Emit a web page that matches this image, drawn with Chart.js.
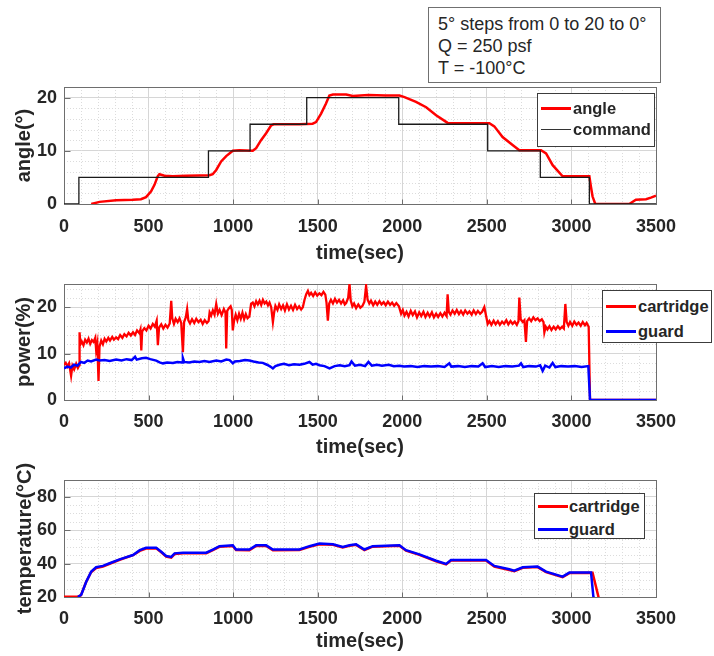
<!DOCTYPE html>
<html>
<head>
<meta charset="utf-8">
<script src="https://cdn.jsdelivr.net/npm/chart.js@4/dist/chart.umd.min.js"></script>
<style>
  body { margin: 0; background: #fff; }
  #page { position: relative; width: 714px; height: 656px; overflow: hidden; font-family: "Liberation Sans", Arial, sans-serif; }
  canvas { position: absolute; left: 0; }
  .note { position: absolute; left: 428px; top: 7px; width: 233px; height: 76px; box-sizing: border-box;
          border: 1px solid #707070; background: #fff; padding: 5px 0 0 9px; font-size: 18px; line-height: 22px; color: #262626; }
  .legend { position: absolute; box-sizing: border-box; border: 1px solid #3c3c3c; background: #fff;
            font-weight: bold; font-size: 16.5px; color: #262626; }
  .legend .swatch { position: absolute; height: 0; }
  .legend .label { position: absolute; line-height: 20px; margin-top: -10px; white-space: nowrap; }
</style>
</head>
<body>
<div id="page">
  <canvas id="angleChart" width="714" height="186" style="top:80px"></canvas>
  <canvas id="powerChart" width="714" height="192" style="top:270px"></canvas>
  <canvas id="tempChart" width="714" height="198" style="top:458px"></canvas>
  <div class="note">5° steps from 0 to 20 to 0°<br>Q = 250 psf<br>T = -100°C</div>
</div>
<script>
// measured angle vs. commanded angle
const angleTime = [161, 210, 308, 407, 455, 485, 515, 535, 554, 564, 594, 643, 722, 801, 860, 879, 900, 929, 959, 998,
  1037, 1116, 1136, 1165, 1195, 1225, 1240, 1392, 1470, 1490, 1520, 1549, 1569, 1590, 1668, 1707, 1800, 1900, 1983, 2013,
  2081, 2141, 2200, 2268, 2515, 2544, 2593, 2652, 2692, 2820, 2850, 2889, 2948, 3106, 3115, 3125, 3141, 3342, 3381, 3441,
  3470, 3500];
const angleDeg = [0, 0.4, 0.7, 0.8, 0.9, 1.3, 2.4, 3.6, 5.2, 5.6, 5.3, 5.2, 5.3, 5.35, 5.4, 5.6, 6.4, 8.0, 9.0, 10.0,
  10.1, 10.0, 10.5, 12.0, 13.3, 14.8, 15.0, 15.0, 15.1, 15.4, 17.0, 18.9, 20.4, 20.6, 20.6, 20.3, 20.5, 20.4, 20.4, 20.1,
  19.2, 18.2, 16.7, 15.25, 15.2, 14.6, 12.6, 11.1, 10.1, 10.1, 9.5, 7.3, 5.2, 5.2, 3.3, 1.4, 0, 0, 0.8, 0.9,
  1.2, 1.55];

const commandTime = [0, 88, 88, 854, 854, 1100, 1100, 1435, 1435, 1979, 1979, 2505, 2505, 2816, 2816, 3106, 3106, 3500];
const commandDeg = [0, 0, 5, 5, 10, 10, 15, 15, 20, 20, 15, 15, 10, 10, 5, 5, 0, 0];

// heater power
const cartPowerTime = [0, 10, 20, 30, 42, 50, 60, 72, 82, 90, 92, 97, 105, 115, 125, 135, 145, 155, 165, 175,
  185, 190, 197, 204, 210, 220, 230, 240, 250, 262, 272, 285, 295, 308, 320, 332, 345, 357, 370, 382,
  395, 408, 420, 432, 445, 452, 457, 462, 475, 487, 500, 512, 525, 537, 548, 555, 562, 575, 587, 600,
  612, 625, 634, 640, 650, 660, 672, 683, 693, 703, 710, 720, 728, 735, 745, 757, 770, 782, 795, 808,
  820, 832, 845, 855, 861, 870, 880, 890, 900, 910, 920, 932, 945, 955, 959, 965, 975, 985, 992, 998,
  1005, 1015, 1025, 1035, 1045, 1055, 1065, 1075, 1085, 1096, 1106, 1116, 1126, 1136, 1146, 1156, 1166, 1176, 1186, 1196,
  1206, 1215, 1225, 1235, 1242, 1250, 1262, 1272, 1284, 1295, 1306, 1318, 1330, 1342, 1354, 1366, 1378, 1390, 1402, 1412,
  1422, 1432, 1442, 1451, 1461, 1473, 1485, 1497, 1510, 1522, 1534, 1545, 1552, 1560, 1568, 1578, 1590, 1602, 1614, 1626,
  1638, 1650, 1660, 1668, 1680, 1688, 1695, 1705, 1715, 1727, 1740, 1752, 1765, 1776, 1786, 1795, 1805, 1815, 1828, 1840,
  1852, 1865, 1877, 1890, 1902, 1915, 1928, 1940, 1952, 1965, 1980, 1993, 2003, 2013, 2025, 2037, 2050, 2062, 2075, 2087,
  2100, 2112, 2125, 2137, 2150, 2162, 2175, 2187, 2200, 2212, 2225, 2237, 2250, 2262, 2268, 2275, 2285, 2297, 2310, 2322,
  2335, 2347, 2360, 2372, 2385, 2397, 2410, 2422, 2435, 2447, 2460, 2472, 2485, 2495, 2505, 2515, 2527, 2540, 2552, 2565,
  2577, 2590, 2602, 2615, 2627, 2640, 2652, 2665, 2677, 2687, 2692, 2700, 2712, 2722, 2731, 2738, 2750, 2762, 2775, 2787,
  2800, 2812, 2825, 2835, 2840, 2848, 2858, 2870, 2882, 2895, 2907, 2920, 2932, 2945, 2955, 2964, 2972, 2982, 2992, 3005,
  3017, 3030, 3042, 3055, 3067, 3080, 3090, 3102, 3110, 3500];
const cartPower = [7.6, 8.0, 7.2, 7.9, 5.2, 7.4, 6.6, 7.8, 6.9, 7.5, 14.6, 12.0, 12.6, 11.8, 13.0, 12.4, 13.2, 12.1, 12.9, 12.5,
  13.4, 10.8, 12.2, 4.1, 11.5, 12.8, 12.0, 13.2, 12.6, 13.4, 12.8, 13.6, 13.0, 13.5, 13.1, 14.0, 13.4, 14.2, 13.7, 14.5,
  13.9, 14.6, 14.0, 15.0, 14.4, 15.2, 10.7, 14.8, 15.5, 15.0, 16.0, 15.4, 16.4, 15.8, 17.1, 11.8, 15.6, 16.3, 15.4, 16.2,
  15.6, 16.5, 21.4, 17.6, 16.4, 17.5, 16.8, 17.6, 16.6, 10.3, 16.8, 17.8, 19.6, 17.2, 16.5, 17.4, 16.6, 17.5, 16.8, 17.3,
  16.4, 17.2, 16.6, 17.0, 18.9, 18.2, 19.3, 18.4, 20.7, 18.6, 19.4, 18.3, 19.6, 18.8, 11.1, 19.2, 19.8, 20.2, 19.4, 15.0,
  17.0, 18.4, 17.2, 18.6, 17.5, 18.8, 17.4, 18.5, 17.6, 18.0, 20.7, 21.0, 20.2, 21.3, 20.6, 21.4, 20.5, 21.6, 20.8, 21.2,
  20.4, 21.0, 20.0, 16.8, 18.8, 20.3, 19.4, 20.6, 19.6, 20.4, 19.3, 20.6, 19.5, 20.3, 19.4, 20.5, 19.6, 20.2, 19.5, 20.0,
  21.6, 22.8, 23.5, 22.6, 23.1, 22.4, 23.2, 22.5, 23.0, 22.6, 23.3, 22.7, 21.0, 17.1, 20.8, 21.6, 20.8, 21.8, 21.0, 21.6,
  20.8, 21.5, 20.6, 20.9, 22.0, 25.0, 21.5, 20.2, 20.8, 19.8, 20.6, 19.9, 20.3, 21.2, 24.6, 21.6, 20.8, 21.4, 20.4, 21.2,
  20.5, 21.3, 20.6, 21.1, 20.4, 21.2, 20.5, 21.0, 20.3, 20.9, 20.2, 18.6, 19.4, 18.2, 19.0, 18.0, 19.2, 18.3, 19.1, 17.8,
  18.9, 18.1, 19.0, 17.9, 18.8, 18.0, 18.9, 17.8, 18.6, 17.9, 18.7, 18.0, 18.8, 18.1, 22.8, 19.0, 18.4, 19.3, 18.6, 19.4,
  18.5, 19.2, 18.4, 19.3, 18.6, 19.1, 18.4, 19.3, 18.5, 19.2, 18.6, 19.0, 20.0, 18.2, 16.4, 17.0, 16.2, 17.1, 16.3, 17.0,
  16.2, 16.9, 16.4, 17.2, 16.3, 17.0, 16.4, 16.9, 16.2, 17.0, 22.1, 17.4, 16.8, 17.2, 12.5, 17.0, 17.6, 17.0, 17.8, 17.2,
  17.6, 17.0, 17.4, 16.8, 14.6, 15.8, 15.2, 15.9, 15.1, 15.8, 15.2, 15.9, 15.3, 15.8, 15.4, 20.7, 16.8, 16.0, 16.8, 16.0,
  16.9, 16.2, 16.7, 16.0, 16.8, 16.1, 16.6, 15.8, 0, 0];

const guardPowerTime = [0, 20, 40, 60, 80, 100, 120, 140, 160, 190, 210, 240, 270, 308, 340, 370, 400, 420, 430, 460,
  485, 510, 545, 565, 585, 610, 644, 670, 700, 703, 710, 740, 770, 801, 830, 860, 900, 930, 960, 979,
  990, 998, 1010, 1040, 1070, 1096, 1120, 1150, 1175, 1200, 1220, 1235, 1250, 1274, 1300, 1330, 1360, 1392, 1420, 1451,
  1470, 1490, 1510, 1540, 1570, 1600, 1630, 1660, 1688, 1700, 1720, 1750, 1780, 1800, 1820, 1850, 1880, 1920, 1950, 1983,
  2010, 2050, 2090, 2130, 2170, 2210, 2250, 2278, 2290, 2330, 2370, 2410, 2450, 2475, 2490, 2530, 2570, 2610, 2650, 2690,
  2702, 2715, 2750, 2790, 2815, 2830, 2845, 2870, 2889, 2905, 2940, 2980, 3020, 3060, 3100, 3110, 3500];
const guardPower = [6.8, 7.2, 7.0, 7.6, 7.4, 8.2, 8.0, 8.5, 8.3, 8.7, 8.5, 8.6, 8.4, 8.7, 8.5, 8.8, 8.6, 9.3, 8.7, 9.0,
  9.1, 8.8, 8.5, 8.1, 7.9, 8.1, 8.0, 8.2, 8.1, 9.0, 8.2, 8.1, 8.3, 8.2, 8.4, 8.2, 8.5, 8.3, 8.7, 8.6,
  8.2, 7.9, 8.3, 8.4, 8.6, 8.5, 8.3, 8.1, 8.0, 7.6, 7.2, 6.8, 7.3, 7.6, 7.8, 7.5, 7.7, 7.6, 7.8, 8.2,
  7.6, 7.8, 7.5, 7.3, 6.8, 7.3, 7.5, 7.3, 7.5, 8.3, 7.4, 7.6, 7.3, 8.2, 7.4, 7.6, 7.4, 7.6, 7.3, 7.4,
  7.2, 7.3, 7.1, 7.3, 7.2, 7.3, 7.1, 7.9, 7.2, 7.3, 7.1, 7.3, 7.2, 7.9, 7.1, 7.3, 7.1, 7.3, 7.2, 7.4,
  7.9, 7.1, 7.3, 7.2, 7.5, 6.3, 7.4, 7.0, 8.0, 7.1, 7.3, 7.2, 7.3, 7.1, 7.3, 0, 0];

// heater temperatures
const cartTempTime = [0, 82, 100, 130, 160, 190, 230, 270, 329, 408, 448, 485, 545, 575, 604, 634, 654, 703, 841, 880,
  919, 998, 1017, 1096, 1136, 1195, 1235, 1392, 1451, 1510, 1590, 1648, 1688, 1727, 1776, 1825, 1983, 2022, 2101, 2200,
  2259, 2288, 2495, 2544, 2633, 2662, 2712, 2800, 2850, 2948, 2988, 3125, 3160, 3175];
const cartTemp = [20.2, 20.2, 21.0, 28.8, 34.8, 37.3, 38.2, 39.9, 42.3, 45.0, 47.6, 49.0, 49.1, 46.8, 44.2, 43.6, 45.7, 46.2, 46.2, 48.1,
  50.0, 50.5, 48.1, 48.0, 50.5, 50.5, 48.0, 48.1, 50.0, 51.6, 51.3, 49.7, 50.6, 51.2, 48.1, 50.1, 50.6, 47.7, 45.2, 41.4,
  39.5, 41.8, 41.8, 38.2, 36.2, 35.5, 37.5, 37.9, 34.9, 31.9, 34.3, 34.5, 20, 14];

const guardTempTime = [82, 102, 132, 161, 190, 230, 270, 329, 408, 448, 485, 545, 575, 604, 634, 654, 703, 841, 880, 919,
  998, 1017, 1096, 1136, 1195, 1235, 1392, 1451, 1510, 1590, 1648, 1688, 1727, 1776, 1825, 1983, 2022, 2101, 2200, 2259,
  2288, 2495, 2544, 2633, 2662, 2712, 2800, 2850, 2948, 2988, 3116, 3130, 3140];
const guardTemp = [20, 21.4, 29.3, 35.2, 37.8, 38.6, 40.2, 42.5, 45.1, 48.0, 49.4, 49.4, 47.1, 44.5, 44.0, 46.1, 46.5, 46.5, 48.4, 50.4,
  50.9, 48.4, 48.4, 50.9, 50.9, 48.4, 48.4, 50.4, 52.0, 51.5, 50.0, 50.9, 51.5, 48.4, 50.4, 50.9, 48.0, 45.5, 41.7, 39.8,
  42.1, 42.1, 38.6, 36.6, 35.8, 37.8, 38.2, 35.2, 32.2, 34.6, 34.6, 20, 14];

const textColor = '#262626';
const fontFamily = '"Liberation Sans", Arial, sans-serif';

function points(xs, ys) {
  return xs.map((x, i) => ({ x: x, y: ys[i] }));
}

// dotted minor grid, axes box, inward tick marks and the rotated y label
const axesDecor = {
  id: 'axesDecor',
  beforeDatasetsDraw(chart, args, opts) {
    const ctx = chart.ctx;
    const a = chart.chartArea;
    const xs = chart.scales.x;
    const ys = chart.scales.y;
    ctx.save();
    ctx.strokeStyle = '#dcdcdc';
    ctx.lineWidth = 1;
    ctx.setLineDash([1, 2]);
    for (let v = xs.min + opts.xMinor; v < xs.max; v += opts.xMinor) {
      if (v % opts.xMajor === 0) continue;
      const px = Math.round(xs.getPixelForValue(v)) + 0.5;
      ctx.beginPath(); ctx.moveTo(px, a.top); ctx.lineTo(px, a.bottom); ctx.stroke();
    }
    for (let v = ys.min + opts.yMinor; v < ys.max; v += opts.yMinor) {
      if ((v - opts.yBase) % opts.yMajor === 0) continue;
      const py = Math.round(ys.getPixelForValue(v)) + 0.5;
      ctx.beginPath(); ctx.moveTo(a.left, py); ctx.lineTo(a.right, py); ctx.stroke();
    }
    ctx.setLineDash([]);
    ctx.strokeStyle = '#6e6e6e';
    const l = Math.round(a.left) + 0.5, t = Math.round(a.top) + 0.5;
    const r = Math.round(a.right) + 0.5, b = Math.round(a.bottom) + 0.5;
    ctx.strokeRect(l, t, r - l, b - t);
    ctx.beginPath();
    xs.ticks.forEach(tk => {
      const px = Math.round(xs.getPixelForValue(tk.value)) + 0.5;
      ctx.moveTo(px, b); ctx.lineTo(px, b - 5);
    });
    ys.ticks.forEach(tk => {
      const py = Math.round(ys.getPixelForValue(tk.value)) + 0.5;
      ctx.moveTo(l, py); ctx.lineTo(l + 6, py);
    });
    ctx.stroke();
    ctx.restore();
  },
  afterDraw(chart, args, opts) {
    const ctx = chart.ctx;
    const a = chart.chartArea;
    ctx.save();
    ctx.translate(opts.yTitleX, (a.top + a.bottom) / 2);
    ctx.rotate(-Math.PI / 2);
    ctx.font = 'bold 20px ' + fontFamily;
    ctx.fillStyle = textColor;
    ctx.textAlign = 'center';
    ctx.textBaseline = 'middle';
    ctx.fillText(opts.yTitle, 0, 0);
    ctx.restore();
  }
};

function plainTick(value) {
  return String(value);
}

function buildChart(canvasId, datasets, cfg) {
  const tickFont = { family: fontFamily, size: 18, weight: 'bold' };
  return new Chart(document.getElementById(canvasId), {
    type: 'line',
    data: { datasets: datasets },
    options: {
      responsive: false,
      animation: false,
      elements: { point: { radius: 0 }, line: { tension: 0 } },
      layout: { padding: { top: cfg.padTop, right: 58, bottom: 0, left: 0 } },
      scales: {
        x: {
          type: 'linear', min: 0, max: 3500,
          ticks: { stepSize: 500, includeBounds: false, autoSkip: false, maxRotation: 0,
                   padding: cfg.xTickPad, color: textColor, font: tickFont, callback: plainTick },
          grid: { color: '#d6d6d6', drawTicks: false },
          border: { display: false },
          title: { display: true, text: 'time(sec)', color: textColor,
                   font: { family: fontFamily, size: 20, weight: 'bold' },
                   padding: { top: 0, bottom: cfg.titlePad } },
          afterFit(s) { s.height = cfg.xAxisHeight; s.paddingLeft = 0; s.paddingRight = 0; }
        },
        y: {
          min: cfg.yMin, max: cfg.yMax,
          ticks: { stepSize: cfg.yStep, includeBounds: false, padding: 7, color: textColor, font: tickFont,
                   callback: plainTick },
          grid: { color: '#d6d6d6', drawTicks: false },
          border: { display: false },
          afterFit(s) { s.width = 64; s.paddingTop = 0; s.paddingBottom = 0; }
        }
      },
      plugins: {
        legend: { display: false },
        tooltip: { enabled: false },
        axesDecor: { xMinor: 100, xMajor: 500, yMinor: cfg.yMinor, yMajor: cfg.yStep, yBase: cfg.yMin,
                     yTitle: cfg.yTitle, yTitleX: cfg.yTitleX }
      }
    },
    plugins: [axesDecor]
  });
}

function addLegend(box, rows) {
  const el = document.createElement('div');
  el.className = 'legend';
  el.style.left = box.left + 'px';
  el.style.top = box.top + 'px';
  el.style.width = box.width + 'px';
  el.style.height = box.height + 'px';
  rows.forEach(row => {
    const sw = document.createElement('div');
    sw.className = 'swatch';
    sw.style.left = box.lineX + 'px';
    sw.style.width = box.lineLen + 'px';
    sw.style.top = (row.y - row.width / 2) + 'px';
    sw.style.borderTop = row.width + 'px solid ' + row.color;
    const lb = document.createElement('div');
    lb.className = 'label';
    lb.style.left = box.textX + 'px';
    lb.style.top = row.y + 'px';
    lb.textContent = row.text;
    el.appendChild(sw);
    el.appendChild(lb);
  });
  document.getElementById('page').appendChild(el);
}

buildChart('angleChart', [
  { label: 'command', data: points(commandTime, commandDeg), borderColor: '#1a1a1a', borderWidth: 1.3 },
  { label: 'angle', data: points(angleTime, angleDeg), borderColor: '#ff0000', borderWidth: 2.5 }
], { padTop: 7, xAxisHeight: 62, xTickPad: 12, titlePad: 1, yMin: 0, yMax: 22, yStep: 10, yMinor: 2,
     yTitle: 'angle(°)', yTitleX: 24 });

buildChart('powerChart', [
  { label: 'guard', data: points(guardPowerTime, guardPower), borderColor: '#0000ff', borderWidth: 2.5 },
  { label: 'cartridge', data: points(cartPowerTime, cartPower), borderColor: '#ff0000', borderWidth: 2.3 }
], { padTop: 14, xAxisHeight: 62, xTickPad: 11, titlePad: 3, yMin: 0, yMax: 25, yStep: 10, yMinor: 2,
     yTitle: 'power(%)', yTitleX: 24 });

buildChart('tempChart', [
  { label: 'guard', data: points(guardTempTime, guardTemp), borderColor: '#0000ff', borderWidth: 2.5 },
  { label: 'cartridge', data: points(cartTempTime, cartTemp), borderColor: '#ff0000', borderWidth: 2.5 }
], { padTop: 22, xAxisHeight: 59, xTickPad: 11, titlePad: 3, yMin: 20, yMax: 90, yStep: 20, yMinor: 5,
     yTitle: 'temperature(°C)', yTitleX: 25 });

addLegend({ left: 537, top: 93, width: 118, height: 54, lineX: 3, lineLen: 30, textX: 35 }, [
  { text: 'angle', color: '#ff0000', width: 3, y: 14 },
  { text: 'command', color: '#333333', width: 1, y: 35 }
]);
addLegend({ left: 602, top: 290, width: 110, height: 53, lineX: 3, lineLen: 30, textX: 35 }, [
  { text: 'cartridge', color: '#ff0000', width: 3, y: 15 },
  { text: 'guard', color: '#0000ff', width: 3, y: 40 }
]);
addLegend({ left: 534, top: 493, width: 111, height: 46, lineX: 3, lineLen: 30, textX: 34 }, [
  { text: 'cartridge', color: '#ff0000', width: 3, y: 12 },
  { text: 'guard', color: '#0000ff', width: 3, y: 35 }
]);
</script>
</body>
</html>
